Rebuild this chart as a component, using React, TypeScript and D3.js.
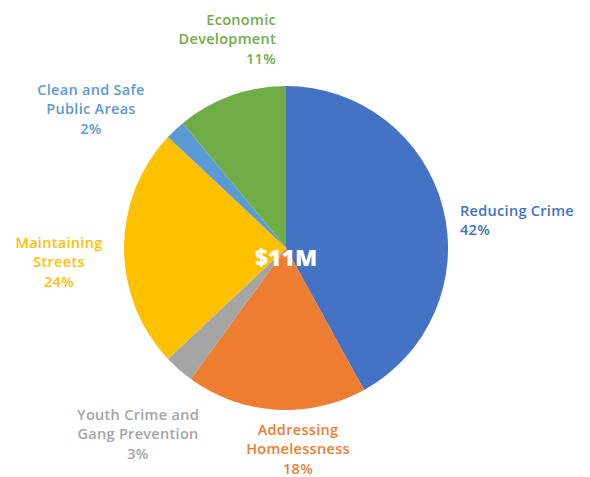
import React from "react";
import * as d3 from "d3";

const categories = [
  "Reducing Crime",
  "Addressing Homelessness",
  "Youth Crime and Gang Prevention",
  "Maintaining Streets",
  "Clean and Safe Public Areas",
  "Economic Development",
];
const values = [42, 18, 3, 24, 2, 11];
const colors = ["#4472C4", "#ED7D31", "#A5A5A5", "#FFC000", "#5B9BD5", "#70AD47"];
const labelLines = [
  ["Reducing Crime", "42%"],
  ["Addressing", "Homelessness", "18%"],
  ["Youth Crime and", "Gang Prevention", "3%"],
  ["Maintaining", "Streets", "24%"],
  ["Clean and Safe", "Public Areas", "2%"],
  ["Economic", "Development", "11%"],
];
const centerLabel = "$11M";

const labelPos: { x: number; y: number; anchor: string }[] = [
  { x: 460, y: 216, anchor: "start" },
  { x: 298, y: 435, anchor: "middle" },
  { x: 138, y: 420, anchor: "middle" },
  { x: 59, y: 248, anchor: "middle" },
  { x: 91, y: 95, anchor: "middle" },
  { x: 276, y: 25, anchor: "end" },
];

export default function App() {
  const W = 590, H = 477;
  const cx = 286, cy = 248, r = 162;
  const pie = d3.pie<number>().sort(null).value((d) => d);
  const arcs = pie(values);
  const arc = d3.arc<d3.PieArcDatum<number>>().innerRadius(0).outerRadius(r);
  const font = "'Open Sans', Lato, sans-serif";
  return (
    <svg width={W} height={H} style={{ position: "absolute", left: 0, top: 0 }}>
      <rect width={W} height={H} fill="#fff" />
      <g transform={`translate(${cx},${cy})`}>
        {arcs.map((a, i) => (
          <path key={categories[i]} d={arc(a) || ""} fill={colors[i]} />
        ))}
      </g>
      {labelLines.map((lines, i) => (
        <text
          key={i}
          x={labelPos[i].x}
          y={labelPos[i].y}
          textAnchor={labelPos[i].anchor as any}
          fill={colors[i]}
          fontFamily={font}
          fontWeight={600}
          fontSize={14.5}
          letterSpacing={0.3}
        >
          {lines.map((l, j) => (
            <tspan key={j} x={labelPos[i].x} dy={j === 0 ? 0 : 19.3}>
              {l}
            </tspan>
          ))}
        </text>
      ))}
      <text
        x={cx}
        y={266}
        textAnchor="middle"
        fill="#fff"
        fontFamily={font}
        fontWeight={800}
        fontSize={23}
      >
        {centerLabel}
      </text>
    </svg>
  );
}
